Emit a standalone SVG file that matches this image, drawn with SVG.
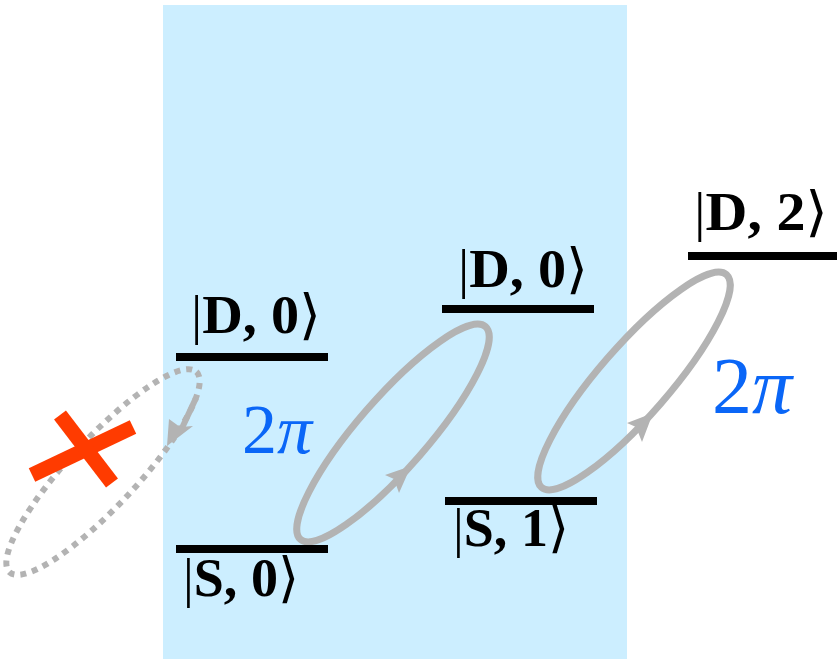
<svg xmlns="http://www.w3.org/2000/svg" width="839" height="659" viewBox="0 0 839 659">
<style>
.lvl{stroke:#000;stroke-width:8}
.lbl{font-family:"Liberation Serif","DejaVu Serif",serif;font-size:54px;fill:#000}
.b{font-weight:bold}
.pi{font-family:"Liberation Serif","DejaVu Serif",serif;fill:#0a66f7}
.loop{fill:none;stroke:#b3b3b3;stroke-width:7}
.dot{fill:none;stroke:#b3b3b3;stroke-width:6;stroke-dasharray:6 6}
.ah{fill:#b3b3b3}
.x{stroke:#ff3b00;stroke-width:15}
</style>
<rect x="163" y="5" width="464" height="654" fill="#cceeff"/>
<g id="connectors">
  <ellipse class="loop" cx="393" cy="433" rx="141" ry="35" transform="rotate(-49 393 433)"/>
  <polygon class="ah" points="411,466 385,475 394,479 399,493"/>
  <ellipse class="loop" cx="634" cy="381" rx="141" ry="35" transform="rotate(-49 634 381)"/>
  <polygon class="ah" points="653,413 627,423 636,427 642,442"/>
  <ellipse class="dot" cx="103" cy="472" rx="137" ry="34" transform="rotate(-47 103 472)"/>
  <path d="M196,398 L182,428" fill="none" stroke="#b3b3b3" stroke-width="6"/>
  <polygon class="ah" points="167,446 169,419 180,427 193,426"/>
</g>
<g id="cross">
  <line class="x" x1="32" y1="475" x2="133" y2="427"/>
  <line class="x" x1="60" y1="415" x2="112" y2="483"/>
</g>
<g id="D0-left">
  <line class="lvl" x1="176" y1="357" x2="328" y2="357"/>
  <text class="lbl" x="191" y="333" textLength="130" lengthAdjust="spacingAndGlyphs">|<tspan class="b">D, 0</tspan>⟩</text>
</g>
<g id="S0-left">
  <line class="lvl" x1="176" y1="549" x2="328" y2="549"/>
  <text class="lbl" x="183" y="596" textLength="116" lengthAdjust="spacingAndGlyphs">|<tspan class="b">S, 0</tspan>⟩</text>
</g>
<g id="D0-mid">
  <line class="lvl" x1="442" y1="309" x2="594" y2="309"/>
  <text class="lbl" x="458" y="287" textLength="130" lengthAdjust="spacingAndGlyphs">|<tspan class="b">D, 0</tspan>⟩</text>
</g>
<g id="S1">
  <line class="lvl" x1="445" y1="501" x2="597" y2="501"/>
  <text class="lbl" x="453" y="546" textLength="116" lengthAdjust="spacingAndGlyphs">|<tspan class="b">S, 1</tspan>⟩</text>
</g>
<g id="D2">
  <line class="lvl" x1="688" y1="256" x2="837" y2="256"/>
  <text class="lbl" x="694" y="230" textLength="134" lengthAdjust="spacingAndGlyphs">|<tspan class="b">D, 2</tspan>⟩</text>
</g>
<g id="label-2pi-left">
  <text class="pi" x="242" y="453" font-size="70">2<tspan font-style="italic">π</tspan></text>
</g>
<g id="label-2pi-right">
  <text class="pi" x="712" y="413" font-size="80">2<tspan font-style="italic">π</tspan></text>
</g>
</svg>
